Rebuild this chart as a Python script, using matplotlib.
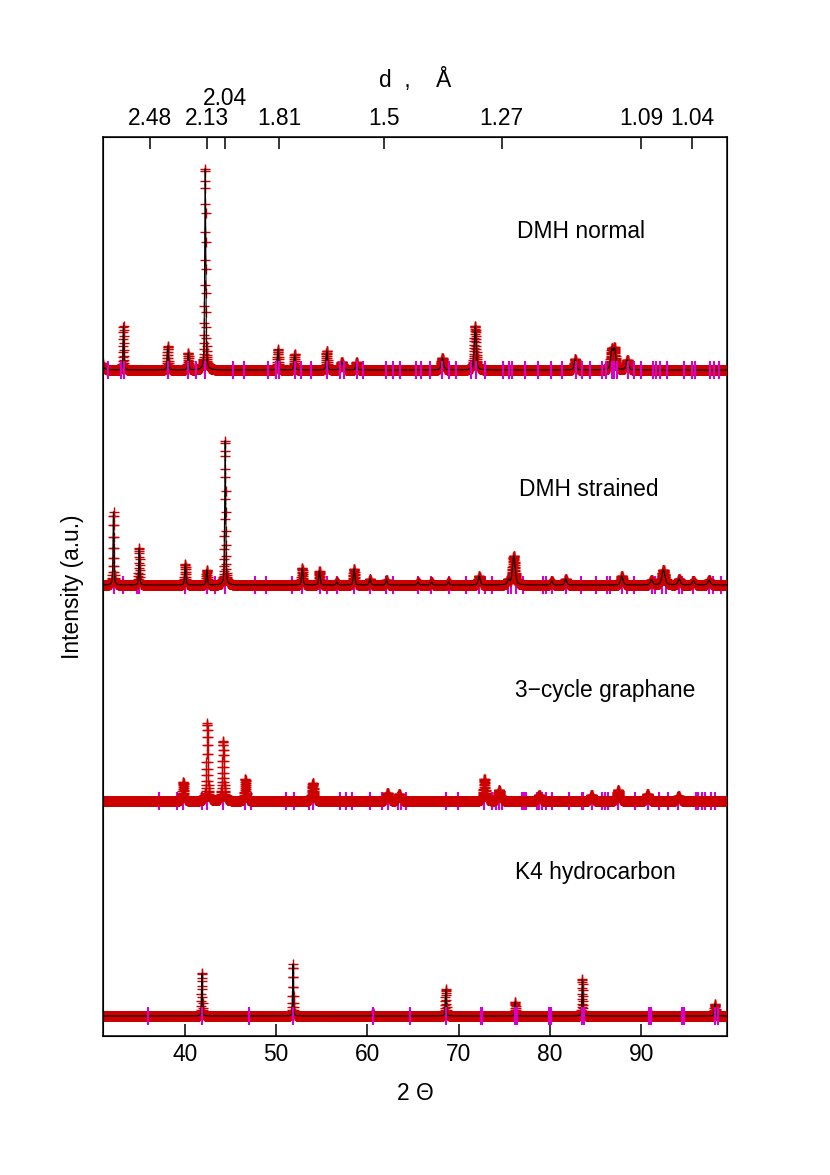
import numpy as np
import matplotlib.pyplot as plt
from matplotlib.transforms import blended_transform_factory

plt.rcParams['font.family'] = ['Liberation Sans', 'DejaVu Sans']
plt.rcParams['font.size'] = 16.4

WAVELENGTH = 1.5406  # Cu K-alpha1, for the d axis on top

# --- DMH normal: peak positions (2 theta), heights (a.u.), FWHM (deg)
normal_pos = [30.9, 33.30, 38.15, 40.39, 42.25, 50.21, 52.03, 55.55, 57.19, 58.82,
              68.20, 71.80, 82.75, 86.75, 87.05, 88.45]
normal_hgt = [95, 44, 24, 17, 202, 21, 16, 19, 8, 8,
              12, 44, 11, 19, 20, 10]
normal_fwhm = [0.12, 0.12, 0.15, 0.15, 0.14, 0.15, 0.15, 0.18, 0.3, 0.2,
               0.3, 0.25, 0.25, 0.3, 0.3, 0.3]
normal_refl = [31.64, 33.02, 33.38, 38.15, 40.39, 41.23, 42.25, 45.30, 46.50, 49.12,
               50.03, 50.28, 52.03, 52.76, 53.85, 55.55, 57.01, 57.41, 58.82, 59.52,
               62.09, 62.75, 63.55, 65.30, 65.85, 66.84, 68.22, 68.95, 69.68, 71.32,
               71.94, 72.89, 74.79, 75.52, 75.88, 77.20, 78.65, 80.11, 81.35, 82.81,
               83.47, 84.34, 85.65, 86.10, 86.75, 87.00, 87.37, 88.57, 89.19, 89.99,
               91.26, 91.56, 92.04, 92.77, 94.67, 95.57, 95.82, 97.47, 97.95, 98.50]

# --- DMH strained
strained_pos = [32.21, 35.02, 40.07, 42.43, 44.43, 52.87, 54.76, 56.65, 58.54, 60.28,
                62.09, 65.55, 67.01, 68.88, 72.24, 75.44, 76.02, 80.18, 81.71, 87.84,
                91.09, 92.40, 94.12, 95.68, 97.39]
strained_hgt = [73, 37, 21, 15, 145, 17, 14, 3, 16, 6,
                5, 3, 3, 3, 9, 5, 29, 4, 6, 9,
                5, 15, 6, 4, 5]
strained_fwhm = [0.12, 0.12, 0.15, 0.15, 0.13, 0.18, 0.18, 0.2, 0.2, 0.2,
                 0.2, 0.2, 0.2, 0.2, 0.25, 0.25, 0.35, 0.25, 0.25, 0.3,
                 0.3, 0.4, 0.3, 0.3, 0.3]
strained_refl = [32.21, 33.30, 34.77, 35.02, 40.07, 42.43, 43.30, 44.43, 47.70, 48.94,
                 51.70, 52.87, 54.76, 55.60, 56.64, 58.54, 60.28, 62.09, 62.75, 65.56,
                 67.01, 68.88, 70.77, 72.24, 72.89, 73.69, 75.44, 75.74, 76.25, 77.05,
                 79.24, 79.60, 80.25, 81.71, 83.36, 85.00, 86.27, 86.53, 87.84, 88.46,
                 89.19, 91.13, 91.49, 92.22, 92.66, 94.11, 94.48, 95.68, 97.39, 97.87,
                 98.67]

# --- 3-cycle graphane
graphane_pos = [39.85, 42.47, 44.21, 46.65, 54.03, 62.20, 63.48, 72.81, 74.42, 78.80,
                84.53, 87.44, 90.66, 94.05]
graphane_hgt = [19, 78, 60, 22, 18, 8, 7, 22, 11, 6,
                6, 11, 7, 5]
graphane_fwhm = [0.2, 0.18, 0.2, 0.2, 0.25, 0.3, 0.3, 0.25, 0.3, 0.3,
                 0.3, 0.3, 0.3, 0.3]
graphane_refl = [37.23, 39.13, 39.85, 41.85, 42.47, 44.21, 46.65, 47.31, 51.12, 51.92,
                 53.56, 54.10, 57.01, 57.67, 58.32, 60.28, 61.59, 62.28, 63.37, 63.66,
                 64.27, 68.58, 69.97, 72.81, 73.69, 74.06, 74.42, 74.71, 76.90, 77.15,
                 77.41, 78.51, 78.80, 79.16, 79.53, 80.19, 82.08, 83.47, 83.61, 84.53,
                 85.73, 86.02, 86.38, 87.44, 89.31, 90.66, 91.94, 92.95, 94.05, 95.94,
                 96.23, 96.60, 96.96, 97.58, 98.05]

# --- K4 hydrocarbon
k4_pos = [41.89, 51.86, 60.58, 68.58, 76.18, 83.53, 90.92, 98.04]
k4_hgt = [43, 52, 3, 27, 14, 37, 3, 12]
k4_fwhm = [0.1, 0.1, 0.12, 0.12, 0.12, 0.12, 0.15, 0.15]
k4_refl = [36.04, 41.89, 47.03, 51.86, 60.58, 64.71, 68.58, 72.41, 72.58, 76.18,
           76.36, 79.88, 80.05, 83.53, 83.75, 90.83, 91.00, 94.40, 94.61, 98.04,
           98.35]

labels = ["DMH normal", "DMH strained", "3\u2212cycle graphane", "K4 hydrocarbon"]
offsets = [666, 451, 235, 20]
label_x = [83.35, 84.2, 86.0, 84.97]
label_y = [805, 546, 346, 163]

d_ticks = [2.48, 2.13, 2.04, 1.81, 1.5, 1.27, 1.09, 1.04]


def profile(tt, pos, hgt, fwhm):
    y = np.zeros_like(tt)
    for p, h, w in zip(pos, hgt, fwhm):
        u = (tt - p) / w
        y += h * (0.5 * np.exp(-4 * np.log(2) * u**2) + 0.5 / (1 + 4 * u**2))
    return y


tt = np.arange(30.5, 99.5, 0.015)

patterns = [
    (normal_pos, normal_hgt, normal_fwhm, normal_refl, True, False),
    (strained_pos, strained_hgt, strained_fwhm, strained_refl, True, True),
    (graphane_pos, graphane_hgt, graphane_fwhm, graphane_refl, False, True),
    (k4_pos, k4_hgt, k4_fwhm, k4_refl, True, False),
]

fig = plt.figure(figsize=(8.3, 11.75), dpi=100)
ax = fig.add_axes([103 / 830, 1 - 1036 / 1175, 624 / 830, 899 / 1175])

red = '#CC0000'
mag = '#D400D4'

for (pos, hgt, fwhm, refl, calc_line, ticks_under), off, lab, lx, ly in zip(
        patterns, offsets, labels, label_x, label_y):
    y = profile(tt, pos, hgt, fwhm) + off
    tz = 2 if ticks_under else 5
    ax.plot(tt, y, '+', color=red, ms=7.4, mew=1.0, zorder=3)
    if calc_line:
        ax.plot(tt, y, '-', color='black', lw=0.8, zorder=4)
    ax.vlines(refl, off - 9, off + 9, color=mag, lw=1.5, zorder=tz)
    ax.text(lx, ly, lab, ha='center', va='center')

ax.set_xlim(31.06, 99.36)
ax.set_ylim(0, 899)
ax.set_yticks([])
ax.set_xticks([40, 50, 60, 70, 80, 90])
ax.tick_params(axis='x', direction='in', length=8.6, width=1.1, pad=5)
for s in ax.spines.values():
    s.set_linewidth(1.1)

# top axis with d-spacing
ax2 = ax.twiny()
ax2.set_xlim(ax.get_xlim())
d_pos = [2 * np.degrees(np.arcsin(WAVELENGTH / (2 * d))) for d in d_ticks]
d_lab = ['' if d == 2.04 else str(d) for d in d_ticks]
ax2.set_xticks(d_pos)
ax2.set_xticklabels(d_lab)
ax2.tick_params(axis='x', direction='in', length=8.6, width=1.1, pad=5)
trans = blended_transform_factory(ax2.transData, ax2.transAxes)
ax2.text(d_pos[2], 1.0 + 38 / 899, '2.04', transform=trans, ha='center', va='center')

fig.text(415 / 830, 1 - 1093 / 1175, '2 \u0398', ha='center', va='center')
fig.text(415 / 830, 1 - 80 / 1175, 'd  ,    \u00c5', ha='center', va='center')
fig.text(73 / 830, 1 - 587 / 1175, 'Intensity (a.u.)', ha='center', va='center',
         rotation=90)

plt.savefig('out.png', dpi=100)
